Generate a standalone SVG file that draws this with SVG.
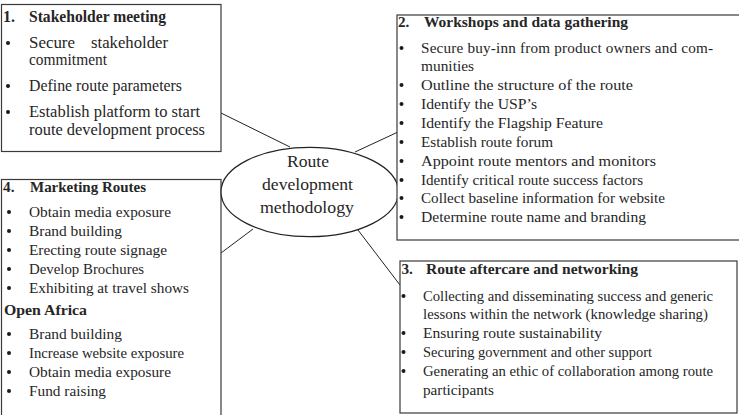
<svg xmlns="http://www.w3.org/2000/svg" width="739" height="415" viewBox="0 0 739 415">
<style>
.box{fill:#fff;stroke:#3a3a3a;stroke-width:1.2}
.t{font-family:"Liberation Serif","DejaVu Serif",serif;fill:#262626}
.s1{font-size:16px}
.s2{font-size:15.2px}
.s4{font-size:15.3px}
.h{font-weight:bold}
.c{font-family:"Liberation Serif","DejaVu Serif",serif;font-size:17.5px;fill:#262626;text-anchor:middle}
.ln{stroke:#222;stroke-width:1;fill:none}
.b{fill:#1a1a1a}
</style>
<defs><circle id="dot" r="2"/></defs>
<g id="connectors">
<line class="ln" x1="221" y1="113" x2="290" y2="147"/>
<line class="ln" x1="355" y1="152" x2="398" y2="132"/>
<line class="ln" x1="253" y1="229" x2="221" y2="253"/>
<line class="ln" x1="358" y1="230" x2="400" y2="285"/>
</g>
<g id="node1">
<rect class="box" x="1.5" y="4.5" width="219.5" height="147"/>
<text class="t s1 h" x="3" y="22">1.</text><text class="t s1 h" x="29" y="22" textLength="137" lengthAdjust="spacingAndGlyphs">Stakeholder meeting</text>
<use href="#dot" class="b" x="8" y="43"/><text class="t s1" x="29" y="48" textLength="46" lengthAdjust="spacingAndGlyphs">Secure</text><text class="t s1" x="91" y="48" textLength="77" lengthAdjust="spacingAndGlyphs">stakeholder</text>
<text class="t s1" x="29" y="65" textLength="78" lengthAdjust="spacingAndGlyphs">commitment</text>
<use href="#dot" class="b" x="8" y="86"/><text class="t s1" x="29" y="91" textLength="153" lengthAdjust="spacingAndGlyphs">Define route parameters</text>
<use href="#dot" class="b" x="8" y="112"/><text class="t s1" x="29" y="117" textLength="171" lengthAdjust="spacingAndGlyphs">Establish platform to start</text>
<text class="t s1" x="29" y="135" textLength="176" lengthAdjust="spacingAndGlyphs">route development process</text>
</g>
<g id="node4">
<rect class="box" x="1.5" y="179.5" width="219.5" height="240"/>
<text class="t s4 h" x="3" y="192">4.</text><text class="t s4 h" x="30" y="192" textLength="116" lengthAdjust="spacingAndGlyphs">Marketing Routes</text>
<use href="#dot" class="b" x="9" y="212"/><text class="t s4" x="29" y="217" textLength="142" lengthAdjust="spacingAndGlyphs">Obtain media exposure</text>
<use href="#dot" class="b" x="9" y="231"/><text class="t s4" x="29" y="236" textLength="93" lengthAdjust="spacingAndGlyphs">Brand building</text>
<use href="#dot" class="b" x="9" y="250"/><text class="t s4" x="29" y="255" textLength="138" lengthAdjust="spacingAndGlyphs">Erecting route signage</text>
<use href="#dot" class="b" x="9" y="269"/><text class="t s4" x="29" y="274" textLength="115" lengthAdjust="spacingAndGlyphs">Develop Brochures</text>
<use href="#dot" class="b" x="9" y="288"/><text class="t s4" x="29" y="293" textLength="160" lengthAdjust="spacingAndGlyphs">Exhibiting at travel shows</text>
<text class="t s4 h" x="4" y="315" textLength="83" lengthAdjust="spacingAndGlyphs">Open Africa</text>
<use href="#dot" class="b" x="9" y="334"/><text class="t s4" x="29" y="339" textLength="93" lengthAdjust="spacingAndGlyphs">Brand building</text>
<use href="#dot" class="b" x="9" y="353"/><text class="t s4" x="29" y="358" textLength="155" lengthAdjust="spacingAndGlyphs">Increase website exposure</text>
<use href="#dot" class="b" x="9" y="372"/><text class="t s4" x="29" y="377" textLength="142" lengthAdjust="spacingAndGlyphs">Obtain media exposure</text>
<use href="#dot" class="b" x="9" y="391"/><text class="t s4" x="29" y="396" textLength="77" lengthAdjust="spacingAndGlyphs">Fund raising</text>
</g>
<g id="center">
<ellipse cx="309.7" cy="192" rx="88.7" ry="44.7" fill="#fff" stroke="#222" stroke-width="1.2"/>
<text class="c" x="308" y="167" textLength="42" lengthAdjust="spacingAndGlyphs">Route</text>
<text class="c" x="307.5" y="190" textLength="91" lengthAdjust="spacingAndGlyphs">development</text>
<text class="c" x="307" y="213" textLength="94" lengthAdjust="spacingAndGlyphs">methodology</text>
</g>
<g id="node2">
<rect class="box" x="397" y="15" width="343" height="225"/>
<text class="t s2 h" x="398" y="27">2.</text><text class="t s2 h" x="424" y="27" textLength="204" lengthAdjust="spacingAndGlyphs">Workshops and data gathering</text>
<use href="#dot" class="b" x="401.5" y="48"/><text class="t s2" x="421" y="53" textLength="292" lengthAdjust="spacing">Secure buy-inn from product owners and com-</text>
<text class="t s2" x="421" y="71" textLength="53" lengthAdjust="spacingAndGlyphs">munities</text>
<use href="#dot" class="b" x="401.5" y="85"/><text class="t s2" x="421" y="90" textLength="212" lengthAdjust="spacingAndGlyphs">Outline the structure of the route</text>
<use href="#dot" class="b" x="401.5" y="104"/><text class="t s2" x="421" y="109" textLength="116" lengthAdjust="spacingAndGlyphs">Identify the USP’s</text>
<use href="#dot" class="b" x="401.5" y="123"/><text class="t s2" x="421" y="128" textLength="182" lengthAdjust="spacingAndGlyphs">Identify the Flagship Feature</text>
<use href="#dot" class="b" x="401.5" y="142"/><text class="t s2" x="421" y="147" textLength="132" lengthAdjust="spacingAndGlyphs">Establish route forum</text>
<use href="#dot" class="b" x="401.5" y="161"/><text class="t s2" x="421" y="166" textLength="235" lengthAdjust="spacingAndGlyphs">Appoint route mentors and monitors</text>
<use href="#dot" class="b" x="401.5" y="180"/><text class="t s2" x="421" y="185" textLength="222" lengthAdjust="spacingAndGlyphs">Identify critical route success factors</text>
<use href="#dot" class="b" x="401.5" y="198"/><text class="t s2" x="421" y="203" textLength="244" lengthAdjust="spacingAndGlyphs">Collect baseline information for website</text>
<use href="#dot" class="b" x="401.5" y="217"/><text class="t s2" x="421" y="222" textLength="225" lengthAdjust="spacingAndGlyphs">Determine route name and branding</text>
</g>
<g id="node3">
<rect class="box" x="400" y="261" width="337" height="152"/>
<text class="t s2 h" x="401.5" y="274">3.</text><text class="t s2 h" x="426" y="274" textLength="212" lengthAdjust="spacingAndGlyphs">Route aftercare and networking</text>
<use href="#dot" class="b" x="403.5" y="296"/><text class="t s2" x="423" y="301" textLength="290" lengthAdjust="spacingAndGlyphs">Collecting and disseminating success and generic</text>
<text class="t s2" x="423" y="319" textLength="285" lengthAdjust="spacingAndGlyphs">lessons within the network (knowledge sharing)</text>
<use href="#dot" class="b" x="403.5" y="333"/><text class="t s2" x="423" y="338" textLength="179" lengthAdjust="spacingAndGlyphs">Ensuring route sustainability</text>
<use href="#dot" class="b" x="403.5" y="352"/><text class="t s2" x="423" y="357" textLength="229" lengthAdjust="spacingAndGlyphs">Securing government and other support</text>
<use href="#dot" class="b" x="403.5" y="371"/><text class="t s2" x="423" y="376" textLength="290" lengthAdjust="spacingAndGlyphs">Generating an ethic of collaboration among route</text>
<text class="t s2" x="423" y="395">participants</text>
</g>
</svg>
